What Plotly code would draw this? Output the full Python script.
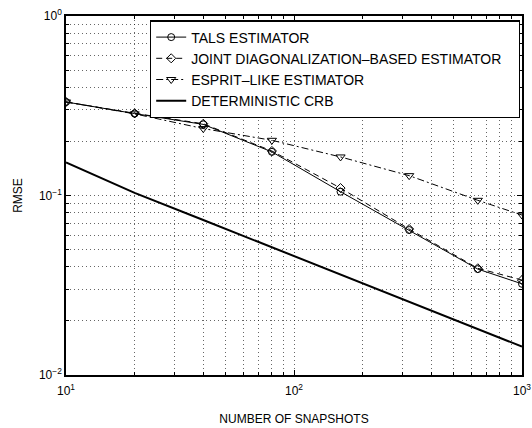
import plotly.graph_objects as go

snapshots = [10, 20, 40, 80, 160, 320, 640, 1000]
tals = [0.332, 0.286, 0.249, 0.175, 0.105, 0.0642, 0.0389, 0.0322]
joint = [0.332, 0.287, 0.251, 0.177, 0.110, 0.0650, 0.0393, 0.0338]
esprit = [0.332, 0.285, 0.236, 0.203, 0.164, 0.129, 0.094, 0.0778]
crb = [0.1528, 0.1035, 0.0730, 0.0514, 0.0362, 0.0255, 0.0180, 0.0144]

names = ["TALS ESTIMATOR", "JOINT DIAGONALIZATION\u2013BASED ESTIMATOR\u00a0\u00a0\u00a0",
         "ESPRIT\u2013LIKE ESTIMATOR", "DETERMINISTIC CRB"]

x_major = [10, 100, 1000]
x_major_text = ["10<sup>1</sup>", "10<sup>2</sup>", "10<sup>3</sup>"]
x_minor = [20, 30, 40, 50, 60, 70, 80, 90, 200, 300, 400, 500, 600, 700, 800, 900]
y_major = [0.01, 0.1, 1]
y_major_text = ["10<sup>\u22122</sup>", "10<sup>\u22121</sup>", "10<sup>0</sup>"]
y_minor = [0.02, 0.03, 0.04, 0.05, 0.06, 0.07, 0.08, 0.09,
           0.2, 0.3, 0.4, 0.5, 0.6, 0.7, 0.8, 0.9]

FONT = "Liberation Sans, Arial, Helvetica, sans-serif"

fig = go.Figure()
fig.add_trace(go.Scatter(x=snapshots, y=tals, name=names[0], mode="lines+markers",
                         line=dict(color="black", width=1, dash="solid"),
                         marker=dict(symbol="circle-open", size=7, color="black",
                                     line=dict(width=1, color="black"))))
fig.add_trace(go.Scatter(x=snapshots, y=joint, name=names[1], mode="lines+markers",
                         line=dict(color="black", width=1, dash="6px,4px"),
                         marker=dict(symbol="diamond-open", size=7, color="black",
                                     line=dict(width=1, color="black"))))
fig.add_trace(go.Scatter(x=snapshots, y=esprit, name=names[2], mode="lines+markers",
                         line=dict(color="black", width=1, dash="7px,3px,2px,3px"),
                         marker=dict(symbol="triangle-down-open", size=8, color="black",
                                     line=dict(width=1, color="black"))))
fig.add_trace(go.Scatter(x=snapshots, y=crb, name=names[3], mode="lines",
                         line=dict(color="black", width=2)))

grid = "rgba(0,0,0,0.6)"
gdash = "1px,3px"
common = dict(showline=True, linecolor="black", linewidth=1.5, mirror="ticks",
              ticks="inside", ticklen=5, tickcolor="black", tickwidth=1,
              showgrid=True, gridcolor=grid, griddash=gdash, gridwidth=1,
              zeroline=False, automargin=False,
              tickfont=dict(family=FONT, size=12, color="black"))

fig.update_xaxes(type="log", range=[1, 3], tickmode="array", tickvals=x_major,
                 ticktext=x_major_text, ticklabelstandoff=4,
                 minor=dict(tickvals=x_minor, ticks="inside", ticklen=3, tickcolor="black",
                            showgrid=True, gridcolor=grid, griddash=gdash, gridwidth=1),
                 title=dict(text="NUMBER OF SNAPSHOTS", font=dict(family=FONT, size=12, color="black"),
                            standoff=17),
                 **common)
fig.update_yaxes(type="log", range=[-2, 0], tickmode="array", tickvals=y_major,
                 ticktext=y_major_text,
                 minor=dict(tickvals=y_minor, ticks="inside", ticklen=3, tickcolor="black",
                            showgrid=True, gridcolor=grid, griddash=gdash, gridwidth=1),
                 title=dict(text="RMSE", font=dict(family=FONT, size=12, color="black"),
                            standoff=14),
                 **common)

fig.update_layout(
    width=532, height=428,
    margin=dict(l=66, r=10, t=16, b=53),
    paper_bgcolor="white", plot_bgcolor="white",
    font=dict(family=FONT, size=12, color="black"),
    showlegend=True,
    legend=dict(x=0.1842, y=0.988, xanchor="left", yanchor="top",
                bgcolor="white", bordercolor="black", borderwidth=1.2,
                font=dict(family=FONT, size=14, color="black"),
                tracegroupgap=0, itemsizing="trace"),
)

fig.write_html("out.html", config={"displayModeBar": False},
               post_script="document.body.style.margin='0';document.body.style.overflow='hidden';")
